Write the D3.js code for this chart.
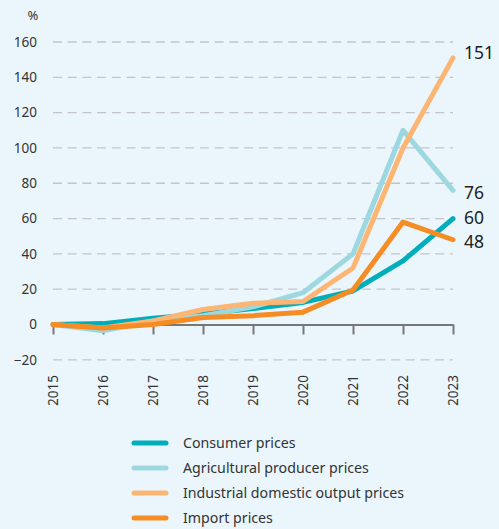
<!DOCTYPE html>
<html><head><meta charset="utf-8">
<script src="https://cdn.jsdelivr.net/npm/d3@7"></script>
<style>
html,body{margin:0;padding:0;background:#eaf6fc;}
svg{display:block;font-family:"Noto Sans","Open Sans",sans-serif;}
</style></head>
<body>
<svg id="c" width="499" height="529"></svg>
<script>
const years = [2015,2016,2017,2018,2019,2020,2021,2022,2023];
const consumer = [0,0.5,3.5,6,9,12.5,19,36,60];
const agricultural = [0,-3.5,2,5,10,18,40,110,76];
const industrial = [0,-2,2,8.5,12,13,32,100,151];
const importPrices = [0,-2,0,4,5,7,19.5,58,48];
const yTicks = [-20,0,20,40,60,80,100,120,140,160];
const seriesNames = ["Consumer prices","Agricultural producer prices","Industrial domestic output prices","Import prices"];
const endLabels = ["60","76","151","48"];

const colors = ["#00aeb9","#9dd7e0","#fdb574","#f58c24"];
const series = [consumer, agricultural, industrial, importPrices];

const svg = d3.select("#c");
svg.append("rect").attr("width",499).attr("height",529).attr("fill","#eaf6fc");

const x = d3.scaleLinear().domain([2015,2023]).range([53,453]);
const y = d3.scaleLinear().domain([0,160]).range([324.5,42]);

// gridlines
svg.append("g").selectAll("line").data(yTicks.filter(d=>d!==0)).join("line")
  .attr("x1",53).attr("x2",453).attr("y1",d=>y(d)).attr("y2",d=>y(d))
  .attr("stroke","#c3c3c9").attr("stroke-width",1.3).attr("stroke-dasharray","9,5.7");

// y tick labels
svg.append("g").selectAll("text").data(yTicks).join("text")
  .attr("x",37).attr("y",d=>y(d)).attr("dy","0.35em").attr("text-anchor","end")
  .attr("font-size",13.5).attr("fill","#333").text(d=>d<0?"\u2212"+Math.abs(d):d);
svg.append("text").attr("x",33).attr("y",20).attr("text-anchor","middle")
  .attr("font-size",13).attr("fill","#333").text("%");

// x axis at 0
const xAxis = d3.axisBottom(x).tickValues(years).tickSize(10).tickSizeOuter(0).tickFormat("");
const gx = svg.append("g").attr("transform",`translate(0,${y(0)})`).call(xAxis);
gx.select(".domain").attr("stroke","#777").attr("stroke-width",2);
gx.selectAll(".tick line").attr("stroke","#777").attr("stroke-width",2);

// year labels (rotated)
svg.append("g").selectAll("text").data(years).join("text")
  .attr("transform",d=>`translate(${x(d)},375) rotate(-90)`)
  .attr("text-anchor","end").attr("dy","0.35em")
  .attr("font-size",13.5).attr("fill","#333").text(d=>d);

// lines
const line = d3.line().x((d,i)=>x(years[i])).y(d=>y(d));
series.forEach((s,k)=>{
  svg.append("path").datum(s).attr("d",line).attr("fill","none")
    .attr("stroke",colors[k]).attr("stroke-width",5).attr("stroke-linejoin","round").attr("stroke-linecap","round");
});

// end labels
const labelY = [y(60)-1, y(76)+3, y(151)-5, y(48)+2];
series.forEach((s,k)=>{
  svg.append("text").attr("x",464).attr("y",labelY[k]).attr("dy","0.35em")
    .attr("font-size",17.5).attr("fill","#222").text(endLabels[k]);
});

// legend
const lg = svg.append("g");
seriesNames.forEach((n,i)=>{
  const yy = 443 + i*25;
  lg.append("line").attr("x1",134).attr("x2",166).attr("y1",yy).attr("y2",yy)
    .attr("stroke",colors[i]).attr("stroke-width",5).attr("stroke-linecap","round");
  lg.append("text").attr("x",183).attr("y",yy).attr("dy","0.35em").attr("font-size",14.2).attr("fill","#333").text(n);
});
</script>
</body></html>
